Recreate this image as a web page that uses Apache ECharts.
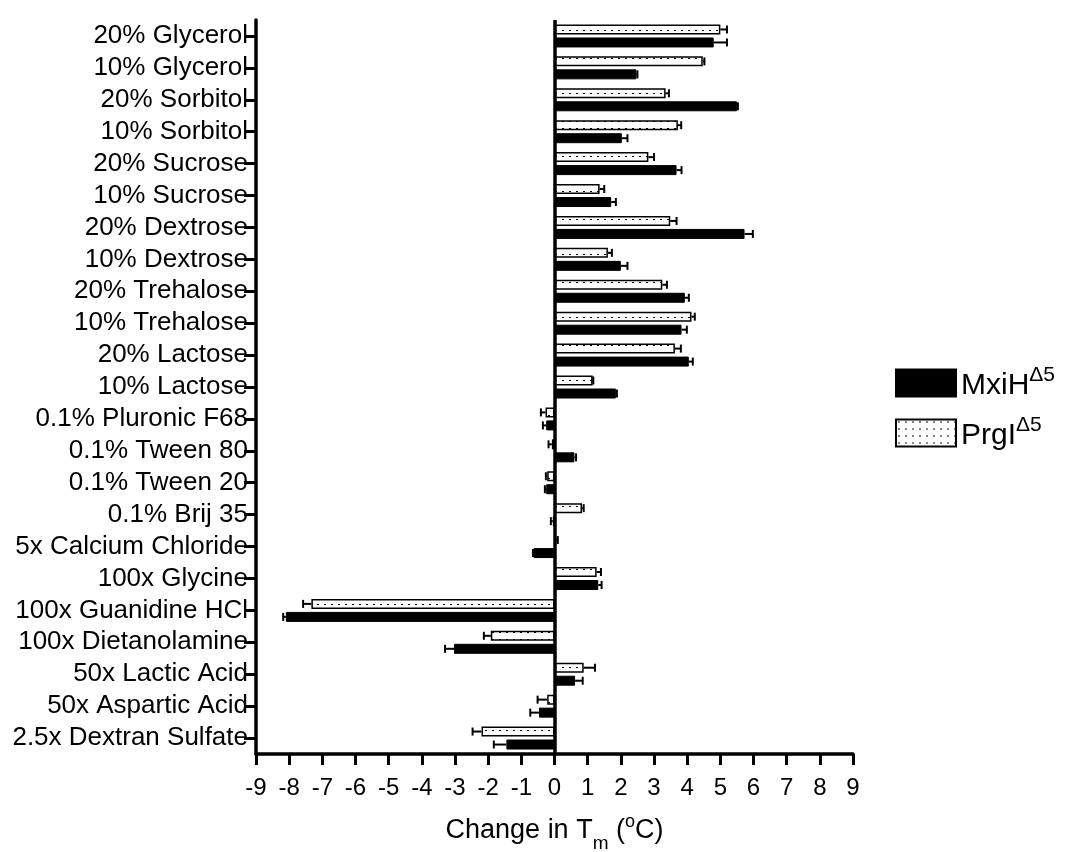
<!DOCTYPE html>
<html>
<head>
<meta charset="utf-8">
<script src="https://cdn.jsdelivr.net/npm/echarts@6/dist/echarts.min.js"></script>
<style>
html,body{margin:0;padding:0;background:#fff;}
#chart{width:1066px;height:852px;}
</style>
</head>
<body>
<div id="chart"></div>
<script>
// categories top to bottom
var categories = ['20% Glycerol', '10% Glycerol', '20% Sorbitol', '10% Sorbitol', '20% Sucrose',
    '10% Sucrose', '20% Dextrose', '10% Dextrose', '20% Trehalose', '10% Trehalose',
    '20% Lactose', '10% Lactose', '0.1% Pluronic F68', '0.1% Tween 80', '0.1% Tween 20',
    '0.1% Brij 35', '5x Calcium Chloride', '100x Glycine', '100x Guanidine HCl',
    '100x Dietanolamine', '50x Lactic Acid', '50x Aspartic Acid', '2.5x Dextran Sulfate'];
// MxiH delta5 (black bars)
var mxihValues = [4.8, 2.47, 5.5, 2.03, 3.68, 1.71, 5.73, 2.0, 3.93, 3.83, 4.05, 1.85,
    -0.25, 0.6, -0.25, -0.05, -0.63, 1.32, -8.1, -3.03, 0.62, -0.47, -1.45];
var mxihErrors = [0.4, 0.03, 0.03, 0.17, 0.15, 0.14, 0.25, 0.2, 0.12, 0.16, 0.12, 0.03,
    0.1, 0.05, 0.04, 0.06, 0.02, 0.1, 0.08, 0.27, 0.23, 0.26, 0.38];
// PrgI delta5 (dotted bars)
var prgiValues = [5.0, 4.47, 3.35, 3.72, 2.83, 1.36, 3.49, 1.61, 3.25, 4.13, 3.63, 1.15,
    -0.27, -0.08, -0.22, 0.83, 0.05, 1.27, -7.33, -1.92, 0.88, -0.22, -2.2];
var prgiErrors = [0.2, 0.05, 0.1, 0.1, 0.17, 0.14, 0.19, 0.12, 0.14, 0.1, 0.18, 0.02,
    0.14, 0.1, 0.04, 0.05, 0.05, 0.13, 0.25, 0.21, 0.34, 0.29, 0.27];
var xMin = -9, xMax = 9, xStep = 1;

var chart = echarts.init(document.getElementById('chart'));

// dotted fill
var dots = document.createElement('canvas');
dots.width = 7; dots.height = 7;
var ctx = dots.getContext('2d');
ctx.fillStyle = '#fff';
ctx.fillRect(0, 0, 7, 7);
ctx.fillStyle = '#000';
ctx.fillRect(2, 2, 2, 1);

var barW = 10, barOff = 6.5;

function errData(vals, errs){
    var out = [];
    for (var i = 0; i < vals.length; i++) {
        out.push([vals[i], i, errs[i]]);
    }
    return out;
}

function errRender(offset){
    return function(params, api){
        var v = api.value(0), idx = api.value(1), e = api.value(2);
        var sign = v < 0 ? -1 : 1;
        var p0 = api.coord([v, idx]);
        var p1 = api.coord([v + sign * e, idx]);
        var y = p0[1] + offset;
        var style = {stroke: '#000', lineWidth: 2};
        return {
            type: 'group',
            children: [
                {type: 'line', shape: {x1: p0[0], y1: y, x2: p1[0], y2: y}, style: style},
                {type: 'line', shape: {x1: p1[0], y1: y - 4, x2: p1[0], y2: y + 4}, style: style}
            ]
        };
    };
}

var option = {
    animation: false,
    backgroundColor: '#fff',
    textStyle: {fontFamily: 'Liberation Sans, Arial, sans-serif', color: '#000'},
    grid: {left: 256, right: 213, top: 20, bottom: 98, containLabel: false, outerBoundsMode: 'none'},
    legend: {
        orient: 'vertical',
        left: 895,
        top: 365,
        padding: 0,
        itemWidth: 60,
        itemHeight: 27,
        itemGap: 14,
        icon: 'rect',
        data: ['MxiH', 'PrgI'],
        formatter: function(name){ return '{n|' + name + '}{s|Δ5}'; },
        textStyle: {
            color: '#000',
            rich: {
                n: {fontSize: 30, color: '#000', fontFamily: 'Liberation Sans', lineHeight: 36, verticalAlign: 'bottom'},
                s: {fontSize: 21, color: '#000', fontFamily: 'Liberation Sans', lineHeight: 36, verticalAlign: 'top'}
            }
        }
    },
    xAxis: {
        type: 'value',
        min: xMin,
        max: xMax,
        interval: xStep,
        name: '{a|Change in T}{b|m}{a| (}{c|o}{a|C)}',
        nameLocation: 'middle',
        nameGap: 59,
        nameTextStyle: {
            rich: {
                a: {fontSize: 27, color: '#000', fontFamily: 'Liberation Sans', lineHeight: 36, verticalAlign: 'middle'},
                b: {fontSize: 19, color: '#000', fontFamily: 'Liberation Sans', lineHeight: 36, verticalAlign: 'bottom', padding: [0, 0, -4, 0]},
                c: {fontSize: 18, color: '#000', fontFamily: 'Liberation Sans', lineHeight: 36, verticalAlign: 'top', padding: [0, 0, 0, 0]}
            }
        },
        axisLine: {show: true, onZero: false, lineStyle: {color: '#000', width: 3.5}},
        axisTick: {show: true, length: 11, lineStyle: {color: '#000', width: 3}},
        axisLabel: {fontSize: 24, color: '#000', margin: 22, fontFamily: 'Liberation Sans Narrow, Liberation Sans, Arial'},
        splitLine: {show: false}
    },
    yAxis: {
        type: 'category',
        inverse: true,
        data: categories,
        axisLine: {show: true, onZero: false, lineStyle: {color: '#000', width: 3.5}},
        axisTick: {show: true, alignWithLabel: true, interval: 0, length: 12, lineStyle: {color: '#000', width: 3}},
        axisLabel: {interval: 0, fontSize: 26, color: '#000', margin: 8, fontFamily: 'Liberation Sans'},
        splitLine: {show: false}
    },
    series: [
        {
            name: 'PrgI',
            type: 'bar',
            data: prgiValues,
            barWidth: barW,
            barGap: '30%',
            itemStyle: {color: {image: dots, repeat: 'repeat'}, borderColor: '#000', borderWidth: 1.5}
        },
        {
            name: 'MxiH',
            type: 'bar',
            data: mxihValues,
            barWidth: barW,
            barGap: '30%',
            itemStyle: {color: '#000', borderColor: '#000', borderWidth: 1},
            markLine: {
                silent: true,
                symbol: ['none', 'none'],
                label: {show: false},
                lineStyle: {color: '#000', width: 3.5, type: 'solid'},
                data: [{xAxis: 0}]
            }
        },
        {
            name: 'PrgI err',
            type: 'custom',
            renderItem: errRender(-barOff),
            encode: {x: 0, y: 1},
            data: errData(prgiValues, prgiErrors),
            z: 3
        },
        {
            name: 'MxiH err',
            type: 'custom',
            renderItem: errRender(barOff),
            encode: {x: 0, y: 1},
            data: errData(mxihValues, mxihErrors),
            z: 3
        }
    ]
};

chart.setOption(option);

window.onresize = function(){
    chart.resize();
};
</script>
</body>
</html>
